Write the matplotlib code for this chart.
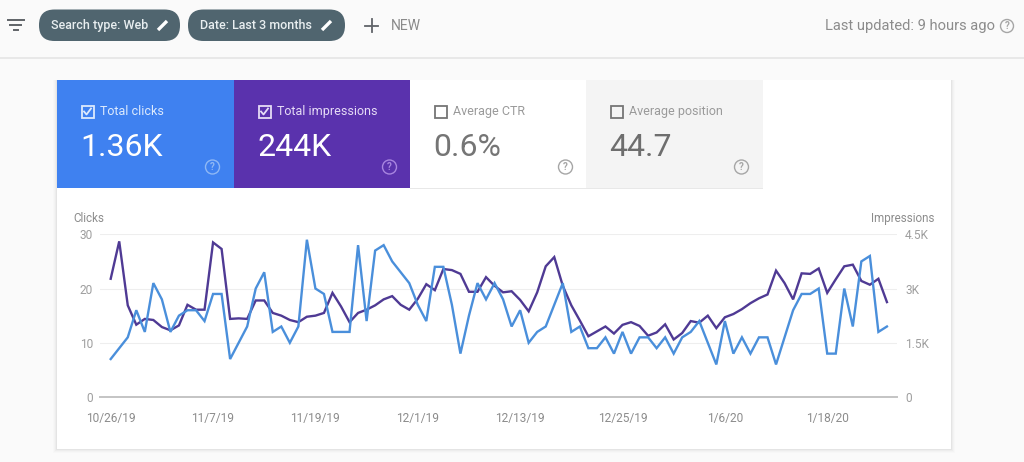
import matplotlib
matplotlib.use("Agg")
import matplotlib.pyplot as plt
import matplotlib.dates as mdates
from matplotlib.patches import Rectangle, FancyBboxPatch, Circle
from datetime import date, timedelta

plt.rcParams['font.family'] = ['Roboto', 'DejaVu Sans']

start_date = date(2019, 10, 26)
clicks = [7, 9, 11, 16, 12, 21, 18, 12, 15, 16, 16, 14, 19, 19, 7, 10, 13, 20, 23, 12,
          13, 10, 13, 29, 20, 19, 12, 12, 12, 28, 14, 27, 28, 25, 23, 21, 17, 14, 24, 24,
          17, 8, 15, 21, 18, 21, 18, 13, 16, 10, 12, 13, 17, 21, 12, 13, 9, 9, 11, 8,
          12, 8, 11, 11, 9, 11, 8, 11, 12, 14, 10, 6, 14, 8, 11, 8, 11, 11, 6, 11,
          16, 19, 19, 20, 8, 8, 20, 13, 25, 26, 12, 13]
impressions = [3270, 4305, 2535, 2000, 2160, 2130, 1935, 1845, 1980, 2550, 2415, 2415,
               4275, 4095, 2160, 2175, 2160, 2670, 2670, 2325, 2250, 2130, 2070, 2220,
               2250, 2325, 2880, 2505, 2070, 2325, 2415, 2535, 2700, 2790, 2550, 2415,
               2715, 3120, 2955, 3540, 3510, 3405, 2910, 2910, 3315, 3075, 2895, 2925,
               2685, 2370, 2895, 3615, 3870, 3075, 2535, 2115, 1680, 1815, 1950, 1755,
               1995, 2070, 1965, 1695, 1785, 2010, 1590, 1770, 2100, 2055, 2250, 1905,
               2205, 2295, 2430, 2595, 2730, 2835, 3495, 3150, 2700, 3420, 3405, 3555,
               2880, 3255, 3615, 3660, 3210, 3105, 3270, 2625]
x_tick_labels = ['10/26/19', '11/7/19', '11/19/19', '12/1/19', '12/13/19', '12/25/19', '1/6/20', '1/18/20']
clicks_ticks = [0, 10, 20, 30]
impression_ticks = [0, 1500, 3000, 4500]
impression_tick_labels = ['0', '1.5K', '3K', '4.5K']
tile_titles = ['Total clicks', 'Total impressions', 'Average CTR', 'Average position']
tile_values = ['1.36K', '244K', '0.6%', '44.7']

W, H = 1024, 462
fig = plt.figure(figsize=(W / 100, H / 100), dpi=100, facecolor='#fafafa')

# --- page furniture, addressed in pixels ---
ui = fig.add_axes([0, 0, 1, 1], zorder=0)
ui.set_xlim(0, W)
ui.set_ylim(H, 0)
ui.axis('off')


def box(x0, y0, x1, y1, color, z=1, **kw):
    ui.add_patch(Rectangle((x0, y0), x1 - x0, y1 - y0, facecolor=color, edgecolor='none', zorder=z, **kw))


def help_icon(cx, cy, color, r=7):
    ui.add_patch(Circle((cx, cy), r, facecolor='none', edgecolor=color, lw=1.0, zorder=4))
    ui.text(cx, cy + 0.3, '?', color=color, fontsize=7, fontweight='bold', ha='center', va='center', zorder=4)


def checkbox(x, y, edge, tick=None):
    ui.add_patch(Rectangle((x, y), 12, 12, facecolor='none', edgecolor=edge, lw=1.3, zorder=4))
    if tick:
        ui.plot([x + 2.5, x + 5, x + 9.5], [y + 6, y + 9, y + 3], color=tick, lw=1.3, zorder=4)


def pencil(x, y):
    ui.plot([x, x + 9], [y + 10, y + 1], color='white', lw=2.4, solid_capstyle='butt', zorder=4)


# header
box(0, 0, W, 57, '#fafafa')
box(0, 57, W, 59, '#e8e8e8')
for half, yy in zip([8, 5.5, 2], [20, 25, 30]):
    ui.plot([15.5 - half, 15.5 + half], [yy, yy], color='#5f6368', lw=1.4, zorder=3)

for x0, x1, label, px in [(39, 180, 'Search type: Web', 158), (188, 345, 'Date: Last 3 months', 322)]:
    ui.add_patch(FancyBboxPatch((x0 + 15.5, 9.5 + 15.5), x1 - x0 - 31, 0.5,
                                boxstyle='round,pad=15.5,rounding_size=15.5',
                                facecolor='#50656f', edgecolor='none', zorder=3))
    ui.text(x0 + 12, 25.5, label, color='#e8eef0', fontsize=9.0, fontweight='medium', va='center', zorder=4)
    pencil(px, 20)

ui.plot([365, 378], [25.5, 25.5], color='#5f6368', lw=1.3, zorder=3)
ui.plot([371.5, 371.5], [19, 32], color='#5f6368', lw=1.3, zorder=3)
ui.text(391, 25.5, 'NEW', color='#8a8a8a', fontsize=10, va='center', zorder=4)
ui.text(825, 26, 'Last updated: 9 hours ago', color='#8c8c8c', fontsize=10.6, va='center', zorder=4)
help_icon(1007, 26, '#a6a6a6', r=6.5)

# card with soft shadow
for grow, alpha in [(4, 0.012), (3, 0.016), (2, 0.022), (1, 0.035)]:
    box(57 - grow, 80, 951 + grow, 449 + grow, 'black', z=0.5, alpha=alpha)
box(57, 80, 951, 449, 'white', z=1)

# tiles
tile_edges = [57, 234, 410, 586, 763]
tile_fill = ['#3f81f0', '#5a32ad', '#ffffff', '#f4f4f4']
title_col = ['#ddeafd', '#e6dcf6', '#9a9a9a', '#9a9a9a']
value_col = ['#ffffff', '#ffffff', '#757575', '#6e6e6e']
icon_col = ['#8fb8f5', '#a885e0', '#a6a6a6', '#a6a6a6']
for k in range(4):
    x0, x1 = tile_edges[k], tile_edges[k + 1]
    box(x0, 80, x1, 188, tile_fill[k], z=2)
    checkbox(x0 + 24.5, 105.5, title_col[k] if k < 2 else '#757575', title_col[k] if k < 2 else None)
    ui.text(x0 + 43, 111.5, tile_titles[k], color=title_col[k], fontsize=9.0, va='center', zorder=4)
    ui.text(x0 + 23.5, 147.5, tile_values[k], color=value_col[k], fontsize=23, va='center', zorder=4)
    help_icon(x0 + 155.5, 167, icon_col[k])
box(410, 187.5, 763, 188.5, '#e8e8e8', z=3)

ui.text(73, 218.5, 'Clicks', color='#8c8c8c', fontsize=8.4, va='center', zorder=4)
ui.text(934, 218.5, 'Impressions', color='#8c8c8c', fontsize=8.4, ha='right', va='center', zorder=4)

# --- chart ---
dates = [start_date + timedelta(days=i) for i in range(len(clicks))]
x_num = mdates.date2num(dates)
step = 8.53
x_left = x_num[0] - (110.7 - 100) / step
x_right = x_num[0] + (897 - 110.7) / step
rect = [100 / W, 1 - 397 / H, 797 / W, (397 - 234.3) / H]

ax2 = fig.add_axes(rect, zorder=1)       # impressions, right axis
ax = fig.add_axes(rect, zorder=2)        # clicks, left axis, drawn on top
for a in (ax, ax2):
    a.patch.set_visible(False)
    a.set_xlim(x_left, x_right)
    for s in a.spines.values():
        s.set_visible(False)

ax.set_ylim(0, 30)
ax2.set_ylim(0, 4500)

ax2.plot(x_num, impressions, color='#4f3a94', lw=1.7, solid_joinstyle='miter')
ax.plot(x_num, clicks, color='#4a8fdb', lw=1.7, solid_joinstyle='miter')

ax2.yaxis.tick_right()
ax2.set_yticks(impression_ticks)
ax2.set_yticklabels(impression_tick_labels)
ax2.tick_params(axis='y', length=0, pad=5.8, labelsize=8.6, labelcolor='#9e9e9e')
ax2.grid(axis='y', color='#eeeeee', lw=0.8)
ax2.set_axisbelow(True)
ax2.set_xticks([])
ax2.axhline(0, color='#c4c4c4', lw=1.4, clip_on=False)

ax.set_yticks(clicks_ticks)
ax.tick_params(axis='y', length=0, pad=5, labelsize=8.6, labelcolor='#9e9e9e')
tick_dates = [x_num[0] + 12 * i for i in range(len(x_tick_labels))]
ax.set_xticks(tick_dates)
ax.set_xticklabels(x_tick_labels)
ax.tick_params(axis='x', length=0, pad=10.5, labelsize=8.6, labelcolor='#8c8c8c')

fig.savefig('out.png', dpi=100, facecolor=fig.get_facecolor())
